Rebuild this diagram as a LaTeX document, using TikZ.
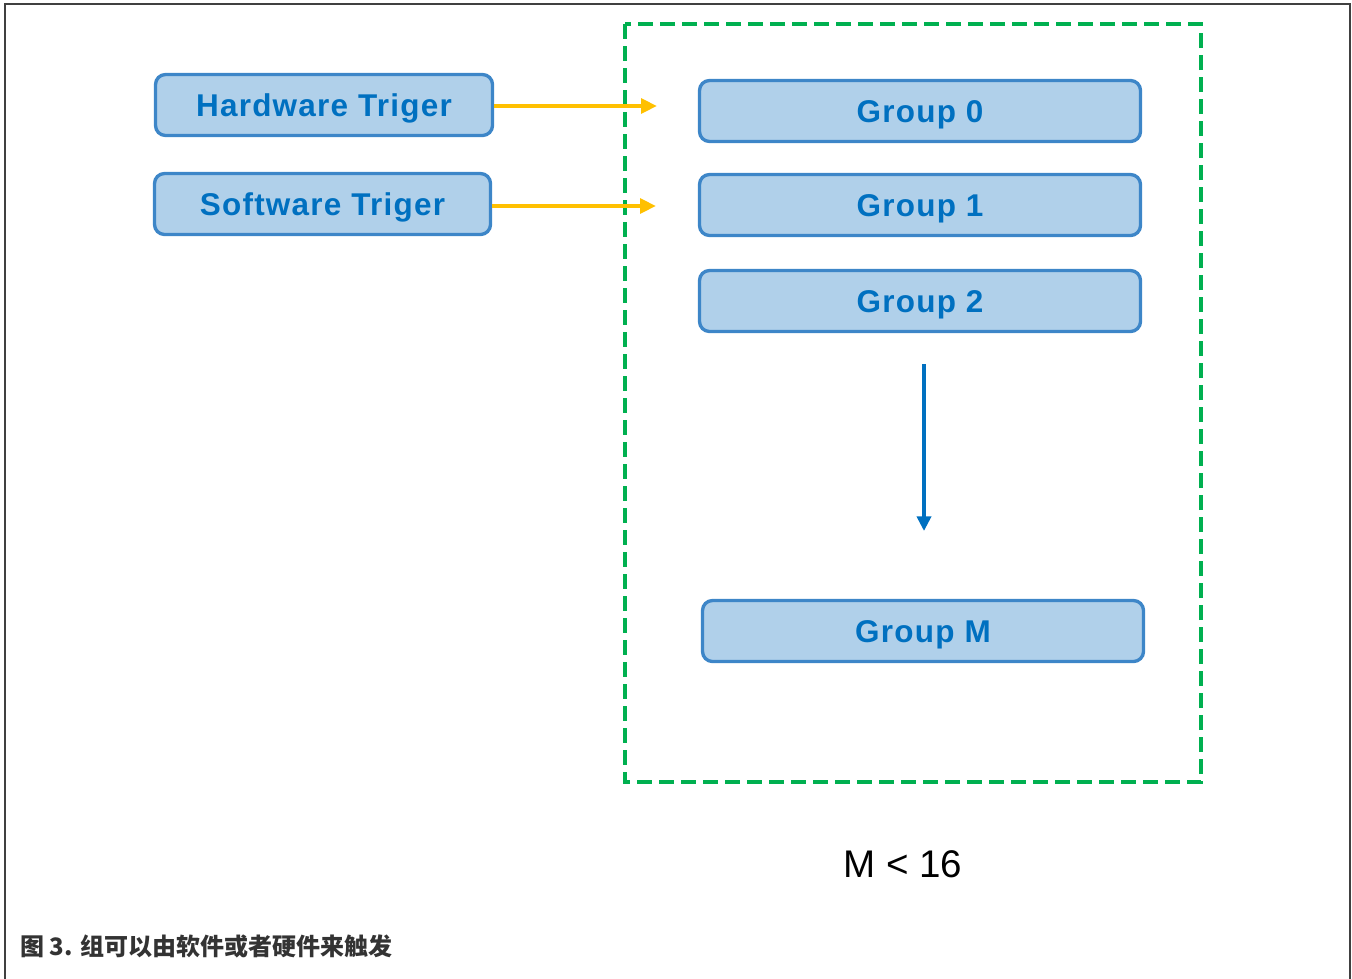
\documentclass[tikz,border=0pt]{standalone}
\usepackage{fontspec}
\setmainfont{Liberation Sans}
\newfontfamily\boxfont[LetterSpace=4]{Liberation Sans}
\newfontfamily\cjk{Noto Sans CJK SC}
\usetikzlibrary{arrows.meta}
\definecolor{boxfill}{RGB}{176,208,234}
\definecolor{boxline}{RGB}{61,134,200}
\definecolor{boxtext}{RGB}{0,112,192}
\definecolor{trig}{RGB}{255,192,0}
\definecolor{grn}{RGB}{0,176,80}
\definecolor{frame}{RGB}{64,64,64}
\definecolor{captext}{RGB}{51,51,51}
\tikzset{
  blk/.style={draw=boxline, fill=boxfill, line width=2.5pt, rounded corners=7.5pt,
    minimum height=45.75pt, inner sep=0pt, text=boxtext, text height=17pt, text depth=0pt,
    font=\boxfont\bfseries\fontsize{23.6pt}{26pt}\selectfont},
  trigarrow/.style={draw=trig, line width=3.2pt, -{Triangle[length=12pt,width=11pt]}},
  flowarrow/.style={draw=boxtext, line width=3pt, -{Triangle[length=11pt,width=10.5pt]}},
  grpframe/.style={draw=grn, line width=3pt, dash pattern=on 11.25pt off 5.25pt},
  outer/.style={draw=frame, line width=1.9pt}
}
\begin{document}
\begin{tikzpicture}[x=0.75pt,y=-0.75pt]
\useasboundingbox (0,0) rectangle (1352,978);
\draw[outer] (5,980) -- (5,4) -- (1350,4) -- (1350,980);
\draw[grpframe] (625,24) rectangle (1201,782);
\node[blk, minimum width=252.75pt] (hw) at (324,105) {Hardware Triger};
\node[blk, minimum width=252pt] (sw) at (322.5,204) {Software Triger};
\node[blk, minimum width=330.75pt] (g0) at (920,111) {Group 0};
\node[blk, minimum width=330.75pt] (g1) at (920,205) {Group 1};
\node[blk, minimum width=330.75pt] (g2) at (920,301) {Group 2};
\node[blk, minimum width=330.75pt] (gm) at (923,631) {Group M};
\coordinate (hwend) at (657,106);
\coordinate (swend) at (656,206);
\draw[trigarrow] (hw.east |- hwend) -- (hwend);
\draw[trigarrow] (sw.east |- swend) -- (swend);
\coordinate (dstart) at (924,364);
\coordinate (dend) at (924,531);
\draw[flowarrow] (dstart) -- (dend);
\node[font=\fontsize{28.9pt}{32pt}\selectfont, text=black, inner sep=0pt] (mlt) at (903,864) {M < 16};
\node[anchor=west, font=\cjk\bfseries\fontsize{18pt}{22pt}\selectfont, text=captext, inner sep=0pt] (cap) at (20,946) {图 3. 组可以由软件或者硬件来触发};
\end{tikzpicture}
\end{document}
